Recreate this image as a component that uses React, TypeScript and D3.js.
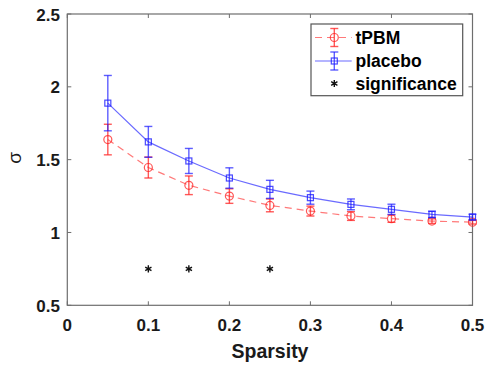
import React from "react";
import * as d3 from "d3";

const sparsity = [0.05, 0.1, 0.15, 0.2, 0.25, 0.3, 0.35, 0.4, 0.45, 0.5];
const tpbmMean = [1.638, 1.446, 1.324, 1.25, 1.186, 1.147, 1.113, 1.095, 1.078, 1.071];
const tpbmErr = [0.105, 0.072, 0.064, 0.05, 0.044, 0.034, 0.03, 0.025, 0.016, 0.013];
const placeboMean = [1.888, 1.622, 1.491, 1.374, 1.296, 1.239, 1.193, 1.159, 1.124, 1.106];
const placeboErr = [0.19, 0.106, 0.086, 0.07, 0.062, 0.045, 0.037, 0.035, 0.022, 0.019];
const sigX = [0.1, 0.15, 0.25];
const sigY = [0.75, 0.75, 0.75];
const xTicks = [0, 0.1, 0.2, 0.3, 0.4, 0.5];
const yTicks = [0.5, 1, 1.5, 2, 2.5];
const legendLabels = ["tPBM", "placebo", "significance"];

const W = 488, H = 365;
const left = 67.3, right = 472.5, top = 14, bottom = 305.3;
const RED = "#ff2020";
const BLUE = "#1a1aff";
const AX = "#6e6e6e";
const FONT = "'Liberation Sans', Arial, sans-serif";

export default function App() {
  const x = d3.scaleLinear().domain([0, 0.5]).range([left, right]);
  const y = d3.scaleLinear().domain([0.5, 2.5]).range([bottom, top]);
  const line = d3.line<number>().x((_, i) => x(sparsity[i])).y((d) => y(d));
  const sq = 3;
  const cap = 4;
  const ast = d3.symbol().type(d3.symbolAsterisk).size(36)() as string;

  const errBars = (means: number[], errs: number[], color: string, op: number) =>
    means.map((m, i) => {
      const cx = x(sparsity[i]);
      const y1 = y(m + errs[i]);
      const y2 = y(m - errs[i]);
      return (
        <g key={i} stroke={color} strokeOpacity={op} strokeWidth={1.4} fill="none">
          <line x1={cx} x2={cx} y1={y1} y2={y2} />
          <line x1={cx - cap} x2={cx + cap} y1={y1} y2={y1} />
          <line x1={cx - cap} x2={cx + cap} y1={y2} y2={y2} />
        </g>
      );
    });

  const lx1 = 315, lx2 = 351.7, lmx = 334.3, ltx = 355.5;
  const ly = [37.5, 61, 83.5];

  return (
    <svg width={W} height={H} style={{ position: "absolute", left: 0, top: 0, background: "#fff" }} fontFamily={FONT}>
      {/* axes box */}
      <rect x={left} y={top} width={right - left} height={bottom - top} fill="none" stroke={AX} strokeWidth={1.2} />
      {xTicks.map((t) => (
        <g key={"xt" + t} stroke={AX} strokeWidth={1}>
          <line x1={x(t)} x2={x(t)} y1={bottom} y2={bottom - 4} />
          <line x1={x(t)} x2={x(t)} y1={top} y2={top + 4} />
        </g>
      ))}
      {yTicks.map((t) => (
        <g key={"yt" + t} stroke={AX} strokeWidth={1}>
          <line x1={left} x2={left + 4} y1={y(t)} y2={y(t)} />
          <line x1={right} x2={right - 4} y1={y(t)} y2={y(t)} />
        </g>
      ))}
      {xTicks.map((t) => (
        <text key={"xl" + t} x={x(t)} y={331} textAnchor="middle" fontSize={17} fontWeight="bold" fill="#1a1a1a">
          {t === 0 ? "0" : String(t)}
        </text>
      ))}
      {yTicks.map((t) => (
        <text key={"yl" + t} x={60} y={y(t) + 6.5} textAnchor="end" fontSize={17} fontWeight="bold" fill="#1a1a1a">
          {String(t)}
        </text>
      ))}
      <text x={270} y={358} textAnchor="middle" fontSize={19.5} fontWeight="bold" fill="#1a1a1a">Sparsity</text>
      <text transform={`translate(21,158) rotate(-90)`} textAnchor="middle" fontSize={19} fill="#1a1a1a">σ</text>

      {/* tPBM */}
      <path d={line(tpbmMean) as string} fill="none" stroke={RED} strokeOpacity={0.6} strokeWidth={1.2} strokeDasharray="7,5" />
      {errBars(tpbmMean, tpbmErr, RED, 0.75)}
      {tpbmMean.map((m, i) => (
        <circle key={"c" + i} cx={x(sparsity[i])} cy={y(m)} r={4} fill="none" stroke={RED} strokeOpacity={0.75} strokeWidth={1.2} />
      ))}

      {/* placebo */}
      <path d={line(placeboMean) as string} fill="none" stroke={BLUE} strokeOpacity={0.65} strokeWidth={1.2} />
      {errBars(placeboMean, placeboErr, BLUE, 0.7)}
      {placeboMean.map((m, i) => (
        <rect key={"s" + i} x={x(sparsity[i]) - sq} y={y(m) - sq} width={sq * 2} height={sq * 2} fill="none" stroke={BLUE} strokeOpacity={0.8} strokeWidth={1.2} />
      ))}

      {/* significance */}
      {sigX.map((s, i) => (
        <path key={"a" + i} d={ast} transform={`translate(${x(s)},${y(sigY[i])})`} stroke="#111" strokeWidth={1.4} fill="none" />
      ))}

      {/* legend */}
      <rect x={311} y={24} width={151.7} height={71.7} fill="#fff" stroke="#555" strokeWidth={1.2} />
      <g>
        <line x1={lx1} x2={lx2} y1={ly[0]} y2={ly[0]} stroke={RED} strokeOpacity={0.6} strokeWidth={1.2} strokeDasharray="7,5" />
        <g stroke={RED} strokeOpacity={0.75} strokeWidth={1.4}>
          <line x1={lmx} x2={lmx} y1={ly[0] - 9} y2={ly[0] + 9} />
          <line x1={lmx - cap} x2={lmx + cap} y1={ly[0] - 9} y2={ly[0] - 9} />
          <line x1={lmx - cap} x2={lmx + cap} y1={ly[0] + 9} y2={ly[0] + 9} />
        </g>
        <circle cx={lmx} cy={ly[0]} r={4} fill="none" stroke={RED} strokeOpacity={0.75} strokeWidth={1.2} />
        <text x={ltx} y={ly[0] + 6} fontSize={17.5} fontWeight="bold" fill="#000">{legendLabels[0]}</text>

        <line x1={lx1} x2={lx2} y1={ly[1]} y2={ly[1]} stroke={BLUE} strokeOpacity={0.65} strokeWidth={1.2} />
        <g stroke={BLUE} strokeOpacity={0.7} strokeWidth={1.4}>
          <line x1={lmx} x2={lmx} y1={ly[1] - 9} y2={ly[1] + 9} />
          <line x1={lmx - cap} x2={lmx + cap} y1={ly[1] - 9} y2={ly[1] - 9} />
          <line x1={lmx - cap} x2={lmx + cap} y1={ly[1] + 9} y2={ly[1] + 9} />
        </g>
        <rect x={lmx - sq} y={ly[1] - sq} width={sq * 2} height={sq * 2} fill="none" stroke={BLUE} strokeOpacity={0.8} strokeWidth={1.2} />
        <text x={ltx} y={ly[1] + 6} fontSize={17.5} fontWeight="bold" fill="#000">{legendLabels[1]}</text>

        <path d={ast} transform={`translate(${lmx},${ly[2]})`} stroke="#111" strokeWidth={1.4} fill="none" />
        <text x={ltx} y={ly[2] + 6} fontSize={17.5} fontWeight="bold" fill="#000">{legendLabels[2]}</text>
      </g>
    </svg>
  );
}
